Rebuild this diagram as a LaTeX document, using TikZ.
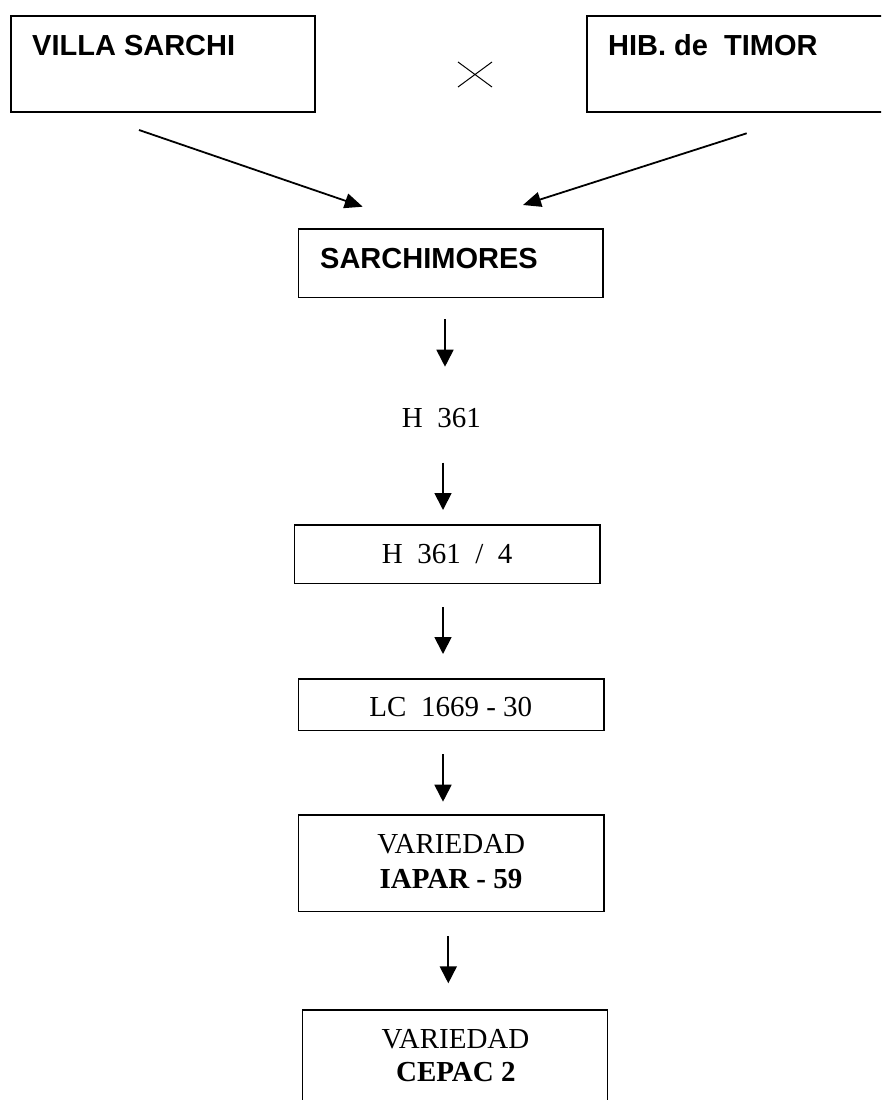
\documentclass[tikz,border=0pt]{standalone}
\usepackage{fontspec}
\setmainfont{Liberation Serif}
\newfontfamily\sansfnt{Liberation Sans}
\usetikzlibrary{arrows.meta}
\tikzset{
  boxnode/.style={draw=black, line width=1.5pt, rectangle, inner sep=0pt, outer sep=0pt},
  topbox/.style={boxnode, line width=1.7pt},
  sanslbl/.style={inner sep=0pt, font=\sansfnt\bfseries\fontsize{29}{35}\selectfont, anchor=base west},
  seriflbl/.style={inner sep=0pt, font=\fontsize{29}{35}\selectfont, anchor=base},
  flowarrow/.style={line width=1.8pt, -{Triangle[length=17pt,width=17pt]}},
  slantarrow/.style={line width=1.8pt, -{Triangle[length=18pt,width=15pt]}},
}
\begin{document}
\begin{tikzpicture}[x=1pt,y=-1pt]
\useasboundingbox (0,0) rectangle (881,1100);
\clip (0,0) rectangle (881,1100);
\fill[white] (0,0) rectangle (881,1100);

% boxes
\node[topbox, minimum width=304.3pt, minimum height=96.3pt] (villa) at (162.85,63.85) {};
\node[topbox, minimum width=304.3pt, minimum height=96.3pt] (hib) at (738.85,63.85) {};
\node[boxnode, minimum width=304.3pt, minimum height=68.7pt] (sarchi) at (450.85,263.35) {};
\node[boxnode, minimum width=305.3pt, minimum height=58.3pt] (hbox) at (447.35,554.15) {};
\node[boxnode, minimum width=305.3pt, minimum height=51.7pt] (lcbox) at (451.35,704.85) {};
\node[boxnode, minimum width=305.3pt, minimum height=96.7pt] (iaparbox) at (451.35,863.35) {};
\node[boxnode, minimum width=304.6pt, minimum height=97pt] (cepacbox) at (455,1058.5) {};

% texts
\node[sanslbl] (villat) at (32,55) {VILLA SARCHI};
\node[sanslbl] (hibt) at (608,55) {HIB. de\ \ TIMOR};
\node[sanslbl] (sarchit) at (320,268) {SARCHIMORES};
\node[seriflbl] (h361) at (441.4,427) {H\ \ 361};
\node[seriflbl] (hboxt) at (447.2,563.3) {H\ \ 361\ \ /\ \ 4};
\node[seriflbl] (lct) at (450.8,716.7) {LC\ \ 1669 - 30};
\node[seriflbl] (iapara) at (451.3,853.3) {VARIEDAD};
\node[seriflbl] (iaparb) at (451,888.3) {\bfseries IAPAR - 59};
\node[seriflbl] (cepaca) at (455.5,1048.3) {VARIEDAD};
\node[seriflbl] (cepacb) at (455.8,1081.7) {\bfseries CEPAC 2};

% cross sign
\draw[line width=1pt] (458,62) -- (492,87) (458,87) -- (492,62);

% arrow end points
\coordinate (l1) at (139,130);
\coordinate (l2) at (362.7,206.7);
\coordinate (r1) at (746.7,133.3);
\coordinate (r2) at (523,205);
\coordinate (a1s) at (445,319);
\coordinate (a1e) at (445,366.7);
\coordinate (a2s) at (443,462.7);
\coordinate (a2e) at (443,510);
\coordinate (a3s) at (443,607);
\coordinate (a3e) at (443,654);
\coordinate (a4s) at (443,754);
\coordinate (a4e) at (443,801.7);
\coordinate (a5s) at (448.3,936);
\coordinate (a5e) at (448.3,983.3);

\draw[slantarrow] (l1) -- (l2);
\draw[slantarrow] (r1) -- (r2);
\draw[flowarrow] (a1s) -- (a1e);
\draw[flowarrow] (a2s) -- (a2e);
\draw[flowarrow] (a3s) -- (a3e);
\draw[flowarrow] (a4s) -- (a4e);
\draw[flowarrow] (a5s) -- (a5e);
\end{tikzpicture}
\end{document}
